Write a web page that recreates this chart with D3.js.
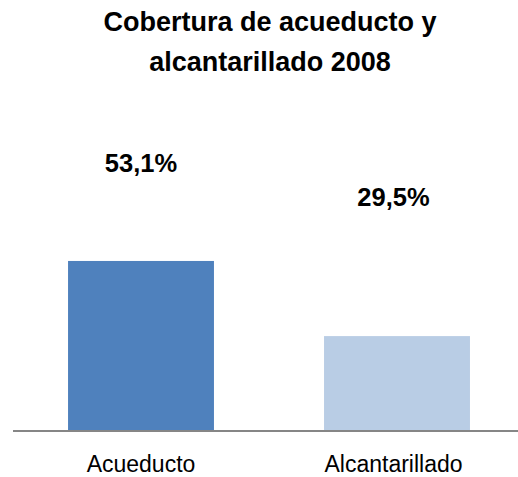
<!DOCTYPE html>
<html>
<head>
<meta charset="utf-8">
<script src="https://cdn.jsdelivr.net/npm/d3@7"></script>
<style>
  html, body { margin: 0; padding: 0; background: #ffffff; }
  svg { display: block; }
</style>
</head>
<body>
<script>
const categories = ["Acueducto", "Alcantarillado"];
const values = [53.1, 29.5];
const valueLabels = ["53,1%", "29,5%"];
const colors = ["#4F81BD", "#B9CDE5"];
const titleLines = ["Cobertura de acueducto y", "alcantarillado 2008"];

const W = 518, H = 477;
const svg = d3.select("body").append("svg").attr("width", W).attr("height", H);

const x = d3.scaleBand().domain(categories).range([13, 525]).paddingInner(0.43).paddingOuter(0.215);
const y = d3.scaleLinear().domain([0, 60]).range([430, 239]);
// label placement scale (labels float above bars, as in the original)
const yLab = d3.scaleLinear().domain([0, 100]).range([248.5, 104.5]);

// center of the visible part of each category slot
function slotCenter(d) {
  const start = x(d) - (x.step() - x.bandwidth()) / 2;
  const end = Math.min(start + x.step(), W);
  return (start + end) / 2;
}

const font = "'Liberation Sans', Arial, sans-serif";

// title
svg.append("text")
  .attr("text-anchor", "middle")
  .attr("font-family", font).attr("font-weight", "bold").attr("font-size", 27)
  .attr("fill", "#000")
  .selectAll("tspan").data(titleLines).join("tspan")
  .attr("x", 270).attr("y", (d, i) => 31 + i * 40)
  .text(d => d);

// bars
svg.selectAll("rect.bar").data(categories).join("rect")
  .attr("class", "bar")
  .attr("x", d => x(d))
  .attr("width", x.bandwidth())
  .attr("y", (d, i) => y(values[i]))
  .attr("height", (d, i) => y(0) - y(values[i]))
  .attr("fill", (d, i) => colors[i]);

// axis line
svg.append("line")
  .attr("x1", x.range()[0]).attr("x2", W)
  .attr("y1", y(0) + 1).attr("y2", y(0) + 1)
  .attr("stroke", "#868686").attr("stroke-width", 2);

// value labels
svg.selectAll("text.val").data(categories).join("text")
  .attr("class", "val")
  .attr("x", d => slotCenter(d))
  .attr("y", (d, i) => yLab(values[i]))
  .attr("text-anchor", "middle")
  .attr("font-family", font).attr("font-weight", "bold").attr("font-size", 25.5)
  .attr("fill", "#000")
  .text((d, i) => valueLabels[i]);

// category labels
svg.selectAll("text.cat").data(categories).join("text")
  .attr("class", "cat")
  .attr("x", d => slotCenter(d))
  .attr("y", 472)
  .attr("text-anchor", "middle")
  .attr("font-family", font).attr("font-size", 23)
  .attr("fill", "#000")
  .text(d => d);
</script>
</body>
</html>
